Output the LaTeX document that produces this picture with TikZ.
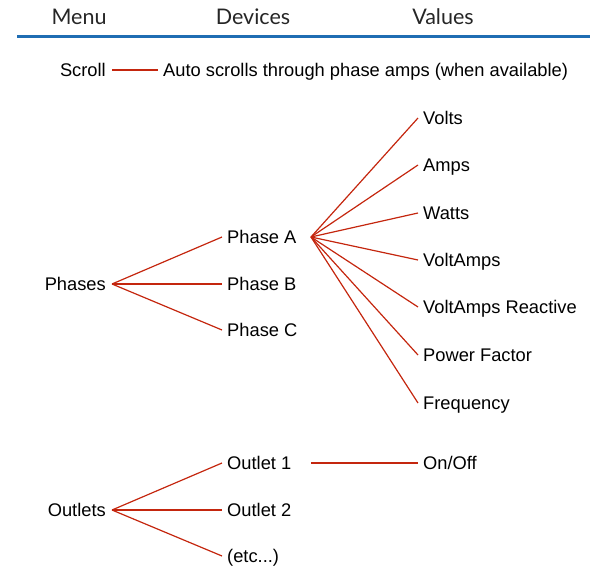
\documentclass[tikz,border=0pt]{standalone}
\usepackage{fontspec}
\setmainfont{Liberation Sans}
\newfontfamily\headfont{Lato}
\usetikzlibrary{positioning}
\definecolor{linkred}{HTML}{C4260E}
\definecolor{ruleblue}{HTML}{1F6DB3}

\begin{document}
\begin{tikzpicture}[x=1pt, y=-1pt,
    heading/.style={font=\headfont\fontsize{21.5}{24}\selectfont, text=black!85, inner sep=0pt},
    item/.style={anchor=west, inner xsep=5pt, inner ysep=0pt, text height=13pt, text depth=0pt, font=\fontsize{18.3}{21}\selectfont},
    parent/.style={item, anchor=east, inner xsep=6pt},
    link/.style={draw=linkred, line width=1.2pt}
]
    \useasboundingbox (0,0) rectangle (590,568);

    % Header
    \node [heading] (menu) at (79,17) {Menu};
    \node [heading] (devices) at (253,17) {Devices};
    \node [heading] (values) at (443,17) {Values};
    \draw [ruleblue, line width=3pt] (17,36) -- (590,36);

    % Scroll
    \node [parent] (scroll) at (112,70) {Scroll};
    \node [item] (auto) at (158,70) {Auto scrolls through phase amps (when available)};

    % Phases
    \node [parent] (phases) at (112,284) {Phases};
    \node [item] (phaseA) at (222,237) {Phase A};
    \node [item] (phaseB) at (222,284) {Phase B};
    \node [item] (phaseC) at (222,330) {Phase C};
    \coordinate (fanA) at (311,237);

    % Values of a phase
    \node [item] (volts) at (418,118) {Volts};
    \node [item] (amps) at (418,165) {Amps};
    \node [item] (watts) at (418,213) {Watts};
    \node [item] (va) at (418,260) {VoltAmps};
    \node [item] (var) at (418,307) {VoltAmps Reactive};
    \node [item] (pf) at (418,355) {Power Factor};
    \node [item] (freq) at (418,403) {Frequency};

    % Outlets
    \node [parent] (outlets) at (112,510) {Outlets};
    \node [item] (outlet1) at (222,463) {Outlet 1};
    \node [item] (outlet2) at (222,510) {Outlet 2};
    \node [item] (etc) at (222,556) {(etc...)};
    \coordinate (fanO) at (311,463);
    \node [item] (onoff) at (418,463) {On/Off};

    % Connections
    \draw [link] (scroll.east) -- (auto.west);
    \draw [link] (phases.east) -- (phaseA.west);
    \draw [link] (phases.east) -- (phaseB.west);
    \draw [link] (phases.east) -- (phaseC.west);
    \draw [link] (fanA) -- (volts.west);
    \draw [link] (fanA) -- (amps.west);
    \draw [link] (fanA) -- (watts.west);
    \draw [link] (fanA) -- (va.west);
    \draw [link] (fanA) -- (var.west);
    \draw [link] (fanA) -- (pf.west);
    \draw [link] (fanA) -- (freq.west);
    \draw [link] (outlets.east) -- (outlet1.west);
    \draw [link] (outlets.east) -- (outlet2.west);
    \draw [link] (outlets.east) -- (etc.west);
    \draw [link] (fanO) -- (onoff.west);
\end{tikzpicture}
\end{document}
